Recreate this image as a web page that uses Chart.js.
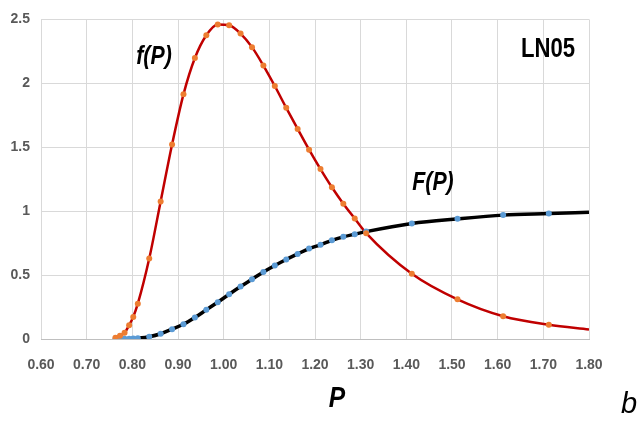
<!DOCTYPE html>
<html>
<head>
<meta charset="utf-8">
<script src="https://cdn.jsdelivr.net/npm/chart.js@4"></script>
<style>
  body { margin: 0; background: #fff; }
  canvas { display: block; }
</style>
</head>
<body>
<canvas id="cvs" width="643" height="423"></canvas>
<script>
//-------------------------------------------------------------------
// data (LN05)
//-------------------------------------------------------------------
const pValues = [0.763, 0.773, 0.783, 0.793, 0.802, 0.812, 0.837, 0.862, 0.887, 0.912,
                 0.937, 0.962, 0.987, 1.012, 1.037, 1.062, 1.087, 1.112, 1.137, 1.162,
                 1.187, 1.212, 1.237, 1.262, 1.287, 1.312, 1.412, 1.512, 1.612, 1.712];
const densityValues = [0.010, 0.026, 0.049, 0.108, 0.173, 0.276, 0.629, 1.076, 1.522, 1.914,
                       2.198, 2.376, 2.461, 2.454, 2.389, 2.283, 2.139, 1.979, 1.808, 1.643,
                       1.481, 1.329, 1.187, 1.058, 0.942, 0.828, 0.510, 0.310, 0.178, 0.111];
const cumulativeValues = [0.000, 0.000, 0.001, 0.002, 0.003, 0.006, 0.018, 0.041, 0.077, 0.115,
                          0.168, 0.228, 0.288, 0.350, 0.410, 0.467, 0.524, 0.575, 0.622, 0.665,
                          0.707, 0.737, 0.772, 0.799, 0.820, 0.840, 0.904, 0.940, 0.969, 0.981];
// curve ends at the right edge, no marker there
const pEnd = 1.80;
const densityEnd = 0.075;
const cumulativeEnd = 0.991;

const xTicks = { min: 0.6, max: 1.8, step: 0.1 };
const yTicks = { min: 0, max: 2.5, step: 0.5 };

//-------------------------------------------------------------------
const SANS = '"Liberation Sans", Arial, sans-serif';

function toPoints(xs, ys) {
  return xs.map((x, i) => ({ x: x, y: ys[i] }));
}

const densityLine = toPoints(pValues.concat([pEnd]), densityValues.concat([densityEnd]));
const cumulativeLine = toPoints(pValues.concat([pEnd]), cumulativeValues.concat([cumulativeEnd]));

// narrow text: Arial Narrow is not around, so squeeze Liberation Sans
function narrowText(ctx, text, x, y, font, squeeze) {
  ctx.save();
  ctx.translate(x, y);
  ctx.scale(squeeze, 1);
  ctx.font = font;
  ctx.fillText(text, 0, 0);
  ctx.restore();
}

const labelPlugin = {
  id: 'labels',
  afterDraw(chart) {
    const ctx = chart.ctx;
    ctx.save();
    ctx.fillStyle = '#000';
    ctx.textAlign = 'center';
    ctx.textBaseline = 'middle';

    narrowText(ctx, 'f(P)', 154, 57, 'italic bold 26px ' + SANS, 0.82);
    narrowText(ctx, 'F(P)', 433, 183, 'italic bold 26px ' + SANS, 0.82);
    narrowText(ctx, 'LN05', 548, 50, 'bold 27px ' + SANS, 0.82);
    narrowText(ctx, 'P', 337, 399, 'italic bold 30px ' + SANS, 0.82);

    ctx.font = 'italic 29px ' + SANS;
    ctx.fillText('b', 629, 405);
    ctx.restore();
  }
};

const ctx = document.getElementById('cvs').getContext('2d');

// chart.js paints dataset 0 last, so markers go first to sit on the curves
new Chart(ctx, {
  type: 'scatter',
  data: {
    datasets: [
      {
        data: toPoints(pValues, densityValues),
        backgroundColor: '#ed7d31',
        borderWidth: 0,
        pointRadius: 3
      },
      {
        data: toPoints(pValues, cumulativeValues),
        backgroundColor: '#5b9bd5',
        borderWidth: 0,
        pointRadius: 3
      },
      {
        type: 'line',
        data: cumulativeLine,
        borderColor: '#000000',
        borderWidth: 3.5,
        pointRadius: 0,
        cubicInterpolationMode: 'monotone',
        fill: false
      },
      {
        type: 'line',
        data: densityLine,
        borderColor: '#c00000',
        borderWidth: 2.5,
        pointRadius: 0,
        cubicInterpolationMode: 'monotone',
        fill: false
      }
    ]
  },
  options: {
    responsive: false,
    animation: false,
    devicePixelRatio: 1,
    layout: { padding: { top: 8, right: 54, left: 0, bottom: 0 } },
    plugins: {
      legend: { display: false },
      tooltip: { enabled: false }
    },
    scales: {
      x: {
        type: 'linear',
        min: xTicks.min,
        max: xTicks.max,
        afterFit: (scale) => { scale.height = 84; },
        ticks: {
          stepSize: xTicks.step,
          padding: 18,
          color: '#595959',
          font: { family: SANS, size: 14, weight: 'bold' },
          callback: (val) => Number(val).toFixed(2)
        },
        grid: { color: '#d9d9d9', lineWidth: 1, drawTicks: false },
        border: { color: '#bfbfbf', width: 1 }
      },
      y: {
        min: yTicks.min,
        max: yTicks.max,
        afterFit: (scale) => { scale.width = 41; },
        ticks: {
          stepSize: yTicks.step,
          padding: 11,
          color: '#595959',
          font: { family: SANS, size: 14, weight: 'bold' },
          callback: (val) => String(Number(Number(val).toFixed(1)))
        },
        grid: { color: '#d9d9d9', lineWidth: 1, drawTicks: false },
        border: { display: false }
      }
    }
  },
  plugins: [labelPlugin]
});
</script>
</body>
</html>
